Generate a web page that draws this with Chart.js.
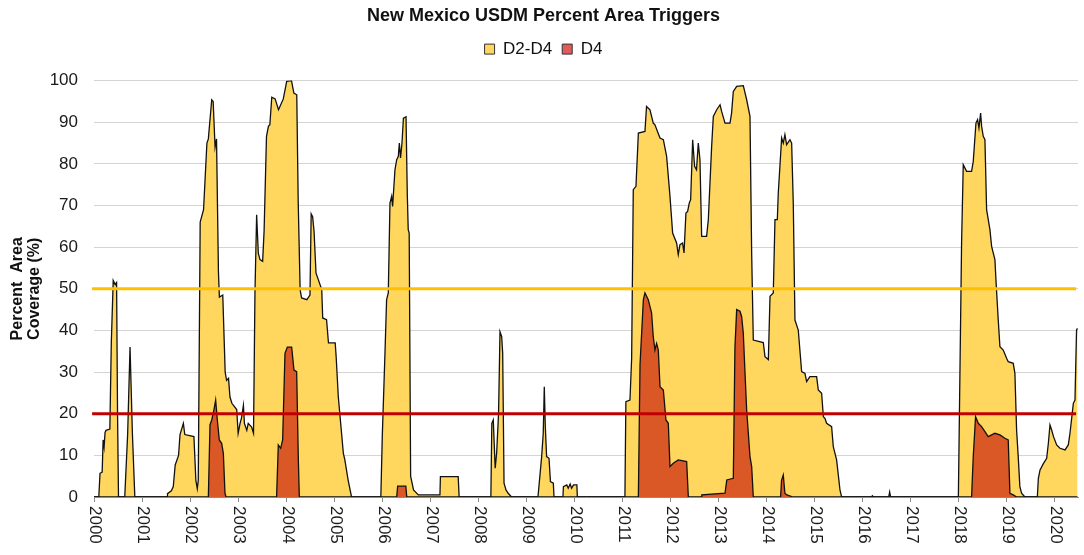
<!DOCTYPE html>
<html>
<head>
<meta charset="utf-8">
<script src="https://cdn.jsdelivr.net/npm/chart.js@4.4.1/dist/chart.umd.min.js"></script>
<style>
  html, body { margin: 0; padding: 0; background: #fff; }
  #wrap { width: 1084px; height: 555px; }
</style>
</head>
<body>
<div id="wrap"><canvas id="usdmChart"></canvas></div>
<script>
// weekly USDM percent area (decimal years)
const d2d4Years = [
  2000.0, 2000.1, 2000.125, 2000.17, 2000.19, 2000.21, 2000.23, 2000.25, 2000.33, 2000.36, 2000.4, 2000.44, 2000.47, 2000.49, 2000.51,
  2000.64, 2000.7, 2000.75, 2000.8, 2000.85,
  2001.52, 2001.53, 2001.61, 2001.65, 2001.69, 2001.76, 2001.79, 2001.86, 2001.89, 2002.08, 2002.12, 2002.15, 2002.17,
  2002.21, 2002.28, 2002.35, 2002.38, 2002.45, 2002.48, 2002.52, 2002.55, 2002.59, 2002.61, 2002.68, 2002.73, 2002.76,
  2002.8, 2002.83, 2002.87, 2002.97, 2003.0, 2003.04, 2003.07, 2003.11, 2003.13, 2003.18, 2003.21, 2003.28, 2003.32,
  2003.35, 2003.385, 2003.42, 2003.455, 2003.51, 2003.54, 2003.59, 2003.63, 2003.66, 2003.7, 2003.77, 2003.84, 2003.87,
  2003.94, 2004.01, 2004.11, 2004.16, 2004.22, 2004.25, 2004.29, 2004.32, 2004.43, 2004.495, 2004.52, 2004.55, 2004.58,
  2004.62, 2004.74, 2004.76, 2004.84, 2004.88, 2005.02, 2005.04, 2005.085, 2005.19, 2005.22, 2005.29, 2005.36,
  2005.97, 2006.0, 2006.056, 2006.09, 2006.125, 2006.16, 2006.195, 2006.215, 2006.264, 2006.3, 2006.334, 2006.355,
  2006.38, 2006.41, 2006.44, 2006.494, 2006.52, 2006.54, 2006.56, 2006.59, 2006.65, 2006.75, 2007.2, 2007.21, 2007.58, 2007.6,
  2008.26, 2008.28, 2008.31, 2008.35, 2008.38, 2008.42, 2008.45, 2008.485, 2008.506, 2008.534, 2008.575, 2008.62, 2008.69,
  2009.24, 2009.28, 2009.317, 2009.35, 2009.372, 2009.393, 2009.42, 2009.47, 2009.5, 2009.56, 2009.574,
  2009.76, 2009.77, 2009.84, 2009.87, 2009.91, 2009.94, 2009.98, 2010.05, 2010.06,
  2011.05, 2011.07, 2011.155, 2011.19, 2011.224, 2011.28, 2011.33, 2011.467, 2011.5, 2011.571, 2011.64, 2011.675,
  2011.78, 2011.85, 2011.918, 2011.988, 2012.043, 2012.126, 2012.16, 2012.196, 2012.25, 2012.28, 2012.32, 2012.355,
  2012.39, 2012.418, 2012.46, 2012.5, 2012.54, 2012.577, 2012.612, 2012.647, 2012.75, 2012.786, 2012.855, 2012.89,
  2012.96, 2013.03, 2013.063, 2013.133, 2013.237, 2013.27, 2013.306, 2013.376, 2013.514, 2013.584, 2013.653, 2013.688,
  2013.722, 2013.93, 2013.965, 2014.035, 2014.07, 2014.138, 2014.173, 2014.222, 2014.242, 2014.312, 2014.346, 2014.38,
  2014.415, 2014.485, 2014.52, 2014.554, 2014.589, 2014.658, 2014.728, 2014.797, 2014.832, 2014.9, 2015.04, 2015.075,
  2015.144, 2015.18, 2015.213, 2015.248, 2015.352, 2015.387, 2015.456, 2015.526, 2015.56,
  2016.18, 2016.2, 2016.22, 2016.54, 2016.56, 2016.58,
  2017.99, 2018.057, 2018.092, 2018.161, 2018.265, 2018.3, 2018.356, 2018.39, 2018.418, 2018.453, 2018.474, 2018.508,
  2018.543, 2018.578, 2018.647, 2018.682, 2018.751, 2018.772, 2018.82, 2018.855, 2018.924, 2018.994, 2019.028, 2019.132,
  2019.167, 2019.202, 2019.236, 2019.27, 2019.306, 2019.375,
  2019.634, 2019.655, 2019.69, 2019.759, 2019.828, 2019.863, 2019.897, 2019.932, 2019.97, 2020.036, 2020.105, 2020.21,
  2020.278, 2020.313, 2020.383, 2020.417, 2020.45, 2020.47
];
const d2d4Values = [
  0, 0, 5.7, 6, 13.7, 12, 15.5, 16, 16.3, 37, 52, 51, 51.5, 20, 0,
  0, 15, 36, 15, 0,
  0, 0.8, 1.5, 2.5, 7.7, 10, 15, 17.7, 15, 14.5, 4, 2, 4,
  66, 69, 85, 86, 95.4, 95, 84, 86, 54, 48, 48.5, 30, 28,
  28.5, 24, 22.5, 21, 15.3, 17.7, 19, 22, 17.7, 16, 17.7, 16.8, 15.3,
  49, 67.8, 58.5, 57, 56.6, 63.8, 86.6, 89, 89.4, 96, 95.6, 93, 93.8,
  95.6, 99.8, 100, 97, 96.6, 71, 49.8, 47.8, 47.4, 48.5, 68, 67.3, 63.8,
  53.8, 49.8, 43, 42.6, 37, 37, 33.7, 24, 10.5, 9, 4, 0,
  0, 14.5, 34.5, 47.4, 49, 70.6, 72.2, 69.8, 78.6, 81, 81.8, 85,
  81.4, 85, 91, 91.3, 73, 64.2, 63.4, 5, 1.7, 0.5, 0.5, 4.9, 4.9, 0,
  0, 17.7, 18.5, 6.9, 10.5, 20, 39.7, 38.5, 34.5, 3.3, 1.7, 0.9, 0,
  0, 5, 9.7, 15.3, 26.5, 16.9, 9.7, 9.3, 3.7, 3.3, 0,
  0, 2.5, 2.9, 2.1, 3.1, 2.1, 2.9, 2.9, 0,
  0, 22.9, 23.3, 33.3, 73.8, 74.6, 87.4, 87.8, 93.8, 93, 89.8, 89.4,
  86.2, 85.8, 81.8, 72.2, 63.4, 61, 58.2, 60.6, 61, 58.6, 68.2, 68.6,
  70.6, 71.4, 85.8, 79.4, 78.6, 85, 81, 62.6, 62.6, 66.6, 84.2, 91.4,
  93, 94.2, 92.6, 89.8, 89.8, 92.2, 97.4, 98.6, 98.8, 95.4, 91.4, 58.5,
  37.7, 37.1, 33.7, 33, 48.2, 49, 66.6, 66.6, 73, 86.2, 85, 87,
  84.6, 85.8, 85, 70.6, 42.5, 40.1, 30.1, 29.7, 27.7, 28.9, 28.9, 25.7,
  24.9, 19.3, 18.9, 17.7, 16.9, 12.1, 8.9, 1.7, 0,
  0, 0.3, 0, 0, 1.2, 0,
  0, 61, 79.8, 78.2, 78.2, 80.6, 89.8, 90.6, 88.6, 92.2, 89, 86.6,
  85.8, 69, 64.2, 60.2, 57, 52.2, 42.5, 36.1, 35.3, 33.3, 32.5, 32.1,
  29.7, 16.1, 9.7, 2.5, 0.9, 0,
  0, 4.5, 6.5, 8, 9.3, 12.9, 17.3, 16.1, 14.5, 12.5, 11.7, 11.3,
  12.5, 15.3, 22.5, 23.3, 40.1, 40.5
];
const d4Years = [
  2000.0, 2002.37, 2002.38, 2002.414, 2002.45, 2002.497, 2002.532, 2002.567, 2002.608, 2002.657, 2002.692, 2002.726, 2002.747,
  2003.8, 2003.836, 2003.885, 2003.926, 2003.975, 2004.024, 2004.114, 2004.162, 2004.218, 2004.253, 2004.274,
  2006.3, 2006.32, 2006.49, 2006.51,
  2011.32, 2011.33, 2011.364, 2011.434, 2011.467, 2011.536, 2011.605, 2011.64, 2011.675, 2011.71, 2011.745, 2011.78,
  2011.85, 2011.904, 2011.953, 2011.988, 2012.057, 2012.16, 2012.335, 2012.37,
  2012.64, 2012.65, 2013.133, 2013.17, 2013.306, 2013.34, 2013.376, 2013.445, 2013.48, 2013.514, 2013.55, 2013.584,
  2013.653, 2013.688, 2013.722,
  2014.29, 2014.31, 2014.346, 2014.38, 2014.42, 2014.55,
  2018.265, 2018.3, 2018.348, 2018.404, 2018.474, 2018.543, 2018.612, 2018.682, 2018.751, 2018.855, 2018.959, 2019.028,
  2019.063, 2019.132, 2019.202, 2020.47
];
const d4Values = [
  0, 0, 0, 17.3, 18.5, 21, 23.3, 18.5, 13.7, 12.9, 10.5, 1, 0,
  0, 12.5, 11.7, 13.7, 34.5, 36, 36, 30.5, 30.1, 8.9, 0,
  0, 2.6, 2.6, 0,
  0, 0, 31.7, 47.4, 49, 47.4, 44.2, 38.5, 35.3, 36.9, 35.3, 26.5,
  25.7, 18.5, 17.7, 7.3, 8.1, 8.9, 8.5, 0,
  0, 0.5, 0.9, 4.1, 4.5, 36, 45, 44.6, 43.3, 39.3, 29.7, 20.9,
  9.7, 7.3, 0,
  0, 4, 5.3, 0.9, 0.5, 0,
  0, 9.7, 19.3, 17.7, 16.9, 15.7, 14.5, 14.9, 15.3, 14.9, 14.1, 13.7,
  0.9, 0.5, 0, 0
];
const triggerLevels = [50, 20];
const triggerColors = ['#FFC000', '#C00000'];
const xStart = 2000;
const xEnd = 2020.48;

const fontFamily = '"Liberation Sans", Arial, Helvetica, sans-serif';

function toPoints(xs, ys) {
  return xs.map((x, i) => ({ x: x, y: ys[i] }));
}

const triggerSets = triggerLevels.map((lvl, i) => ({
  label: 'trigger' + lvl,
  data: [{ x: xStart - 0.04, y: lvl }, { x: xEnd - 0.04, y: lvl }],
  borderColor: triggerColors[i],
  borderWidth: 3,
  pointRadius: 0,
  fill: false,
  clip: false
}));

// extra room under the legend, like the original
const legendGap = {
  id: 'legendGap',
  beforeInit(chart) {
    const origFit = chart.legend.fit;
    chart.legend.fit = function () {
      origFit.bind(chart.legend)();
      this.height += 13;
    };
  }
};

// x labels in the original read top-to-bottom, so draw them turned clockwise
const clockwiseYears = {
  id: 'clockwiseYears',
  afterDraw(chart) {
    const scale = chart.scales.x;
    const ctx = chart.ctx;
    ctx.save();
    ctx.font = '17px ' + fontFamily;
    ctx.fillStyle = '#1a1a1a';
    ctx.textAlign = 'left';
    ctx.textBaseline = 'middle';
    scale.ticks.forEach(t => {
      const px = scale.getPixelForValue(t.value);
      ctx.save();
      ctx.translate(px + 1, scale.top + 9);
      ctx.rotate(Math.PI / 2);
      ctx.fillText(String(t.value), 0, 0);
      ctx.restore();
    });
    ctx.restore();
  }
};

const ctx = document.getElementById('usdmChart').getContext('2d');
const usdmChart = new Chart(ctx, {
  type: 'line',
  data: {
    datasets: [
      ...triggerSets,
      {
        label: 'D4',
        data: toPoints(d4Years, d4Values),
        backgroundColor: '#DA5726',
        borderColor: '#111',
        borderWidth: 1.3,
        pointRadius: 0,
        fill: 'origin'
      },
      {
        label: 'D2-D4',
        data: toPoints(d2d4Years, d2d4Values),
        backgroundColor: '#FFD75E',
        borderColor: '#111',
        borderWidth: 1.3,
        pointRadius: 0,
        fill: 'origin'
      }
    ]
  },
  options: {
    responsive: true,
    maintainAspectRatio: false,
    animation: false,
    layout: { padding: { left: 9, right: 6, top: 0, bottom: 4 } },
    plugins: {
      title: {
        display: true,
        text: 'New Mexico USDM Percent Area Triggers',
        color: '#111',
        font: { family: fontFamily, size: 18, weight: 'bold' },
        padding: { top: 5, bottom: 4 }
      },
      legend: {
        reverse: true,
        labels: {
          filter: item => !item.text.startsWith('trigger'),
          color: '#111',
          font: { family: fontFamily, size: 17 },
          boxWidth: 10,
          boxHeight: 10,
          padding: 10,
          generateLabels(chart) {
            const items = Chart.defaults.plugins.legend.labels.generateLabels(chart);
            items.forEach(it => {
              it.strokeStyle = '#333';
              it.lineWidth = 1;
              if (it.text === 'D4') it.fillStyle = '#E05B5B';
            });
            return items;
          }
        }
      },
      tooltip: { enabled: false }
    },
    scales: {
      x: {
        type: 'linear',
        min: xStart,
        max: xEnd,
        afterFit(scale) { scale.height = 54; },
        grid: {
          drawOnChartArea: false,
          drawTicks: true,
          tickLength: 5,
          color: '#8c8c8c'
        },
        border: { display: true, color: '#8c8c8c', width: 1 },
        ticks: {
          stepSize: 1,
          includeBounds: false,
          minRotation: 90,
          maxRotation: 90,
          color: 'rgba(0,0,0,0)',
          font: { family: fontFamily, size: 17 },
          callback: v => String(v)
        }
      },
      y: {
        min: 0,
        max: 100,
        afterFit(scale) { scale.width = 85; },
        grid: { color: '#d4d4d4', drawTicks: false },
        border: { display: false },
        ticks: {
          stepSize: 10,
          padding: 16,
          color: '#1a1a1a',
          font: { family: fontFamily, size: 17 }
        },
        title: {
          display: true,
          text: ['Percent  Area', 'Coverage (%)'],
          color: '#111',
          font: { family: fontFamily, size: 16, weight: 'bold', lineHeight: 1.05 },
          padding: { top: 0, bottom: 4 }
        }
      }
    }
  },
  plugins: [legendGap, clockwiseYears]
});
</script>
</body>
</html>
